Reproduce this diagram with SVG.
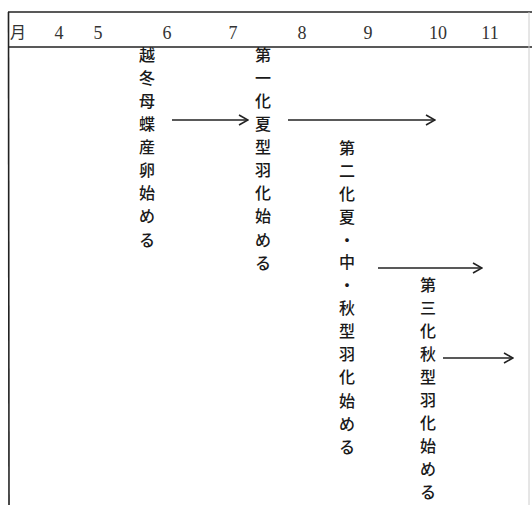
<svg xmlns="http://www.w3.org/2000/svg" width="532" height="505" viewBox="0 0 532 505">
<style>
.frame{stroke:#222;stroke-width:1.6;fill:none}
.conn{stroke:#222;stroke-width:1.4;fill:none}
.m{font-family:"Liberation Serif","Noto Sans CJK JP",serif;font-size:18px;fill:#333;text-anchor:middle}
.v{font-family:"Noto Sans CJK JP",sans-serif;font-size:16px;font-weight:500;fill:#1a1a1a;text-anchor:middle}
</style>
<defs>
<marker id="ah" viewBox="0 0 11 12" refX="10" refY="6" markerWidth="11" markerHeight="12" markerUnits="userSpaceOnUse" orient="auto">
<path d="M1,1 L10,6 L1,11" stroke="#222" stroke-width="1.6" fill="none"/>
</marker>
</defs>
<rect width="532" height="505" fill="#fff"/>
<g id="frame">
<line class="frame" x1="8" y1="12" x2="532" y2="12"/>
<line class="frame" x1="8" y1="47" x2="532" y2="47"/>
<line class="frame" x1="8.5" y1="12" x2="9" y2="505"/>
<line x1="529" y1="12" x2="529" y2="505" stroke="#ccc" stroke-width="1"/>
</g>
<g id="header">
<text class="m" x="18" y="38" style="font-family:'Noto Sans CJK JP',sans-serif;font-size:16px">月</text>
<text class="m" x="59" y="39">4</text>
<text class="m" x="98" y="39">5</text>
<text class="m" x="167" y="39">6</text>
<text class="m" x="233" y="39">7</text>
<text class="m" x="302" y="39">8</text>
<text class="m" x="368" y="39">9</text>
<text class="m" x="438" y="39">10</text>
<text class="m" x="490" y="39">11</text>
</g>
<g id="n1">
<text class="v" x="147 147 147 147 147 147 147 147 147" y="61 84 107 130 153 176 199 222 246">越冬母蝶産卵始める</text>
</g>
<g id="n2">
<text class="v" x="263 263 263 263 263 263 263 263 263 263" y="61 84 107 130 153 176 199 222 246 269">第一化夏型羽化始める</text>
</g>
<g id="n3">
<text class="v" x="347 347 347 347 347 347 347 347 347 347 347 347 347 347" y="154 177 200 223 246 268 291 314 337 360 383 407 430 453">第二化夏・中・秋型羽化始める</text>
</g>
<g id="n4">
<text class="v" x="428 428 428 428 428 428 428 428 428 428" y="291 314 337 360 383 406 429 452 475 498">第三化秋型羽化始める</text>
</g>
<g id="connectors">
<line class="conn" x1="172" y1="120" x2="248" y2="120" marker-end="url(#ah)"/>
<line class="conn" x1="288" y1="120" x2="435" y2="120" marker-end="url(#ah)"/>
<line class="conn" x1="378" y1="268" x2="482" y2="268" marker-end="url(#ah)"/>
<line class="conn" x1="443" y1="358" x2="513" y2="358" marker-end="url(#ah)"/>
</g>
</svg>
